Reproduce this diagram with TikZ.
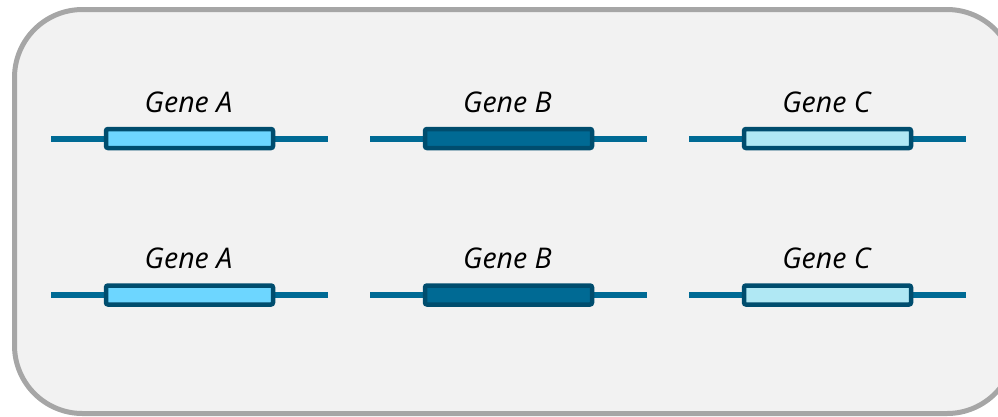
\documentclass[tikz,border=0pt]{standalone}
\usepackage{fontspec}
\setmainfont{Open Sans}
\definecolor{panelfill}{HTML}{F2F2F2}
\definecolor{panelline}{HTML}{A6A6A6}
\definecolor{dnaline}{HTML}{006A94}
\definecolor{geneedge}{HTML}{004D6E}
\definecolor{geneA}{HTML}{6DD6FF}
\definecolor{geneB}{HTML}{006A94}
\definecolor{geneC}{HTML}{B0E8F4}
\tikzset{
  dna/.style={draw=dnaline, line width=6pt},
  genebox/.style={draw=geneedge, line width=4.5pt, rounded corners=2pt,
    minimum width=167pt, minimum height=19pt, inner sep=0pt, outer sep=0pt},
  genelabel/.style={font=\fontsize{28.5}{34}\selectfont\itshape, inner sep=0pt, anchor=base}
}
\begin{document}
\begin{tikzpicture}[x=1pt,y=-1pt]
  \useasboundingbox (0,0) rectangle (998,416);
  \clip (0,0) rectangle (998,416);
  % rounded panel, running off the right edge
  \draw[fill=panelfill, draw=panelline, line width=5pt, rounded corners=68pt]
    (14.5,9.5) rectangle (1015,413.5);
  % two rows of three genes each
  \foreach \row/\ly/\ty in {1/138.5/112, 2/295/268} {
    \foreach \col/\cx/\name/\fillc in {1/189.5/A/geneA, 2/508.5/B/geneB, 3/827.5/C/geneC} {
      \coordinate (l\row\col) at (\cx-138.5,\ly);
      \coordinate (r\row\col) at (\cx+138.5,\ly);
      \draw[dna] (l\row\col) -- (r\row\col);
      \node[genebox, fill=\fillc] (g\row\col) at (\cx,\ly) {};
      \node[genelabel] (t\row\col) at (\cx-1,\ty) {Gene \name};
    }
  }
\end{tikzpicture}
\end{document}
